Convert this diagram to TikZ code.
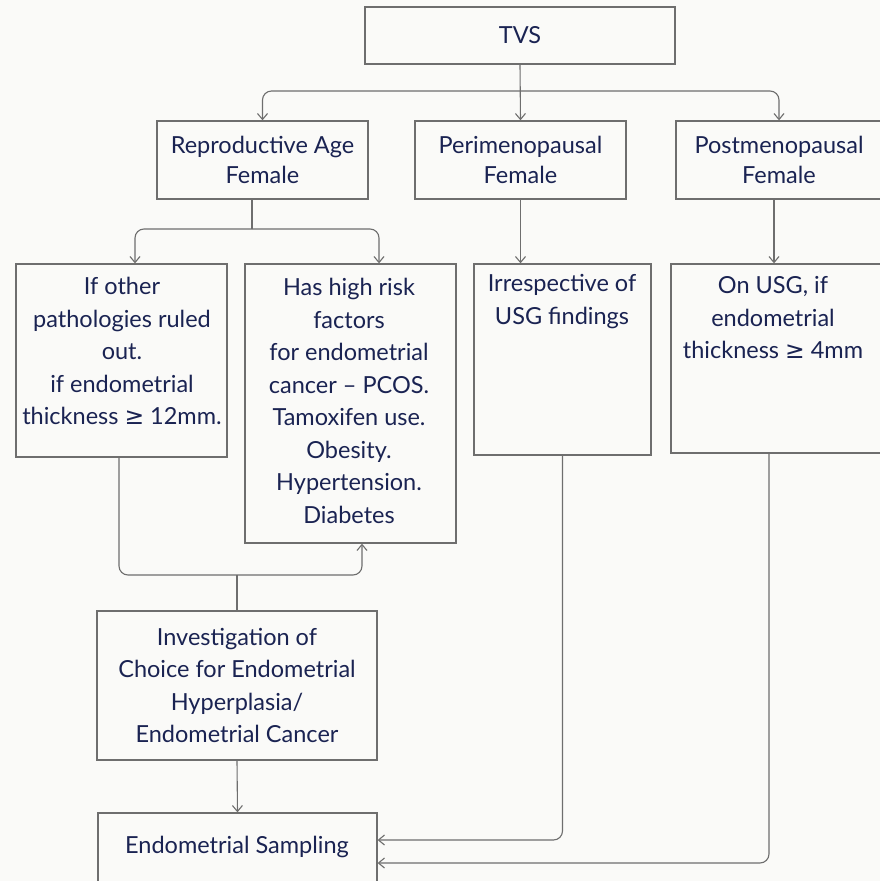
\documentclass[tikz,border=0pt]{standalone}
\usepackage{fontspec}
\setmainfont{Lato}
\newfontfamily\symfont{DejaVu Sans}
\usetikzlibrary{arrows.meta,calc}
\definecolor{ink}{HTML}{1A2352}
\definecolor{rulegray}{HTML}{6E6E6E}
\definecolor{paper}{HTML}{FAFAF8}
\newcommand{\atleast}{{\symfont ≥}}
\begin{document}
\begin{tikzpicture}[x=1pt,y=-1pt,
  box/.style={draw=rulegray, line width=1.3pt, rectangle, inner sep=0pt},
  txt/.style={text=ink, align=center, font=\fontsize{23.5}{32.5}\selectfont, inner sep=0pt},
  hdr/.style={text=ink, align=center, font=\fontsize{23.5}{30}\selectfont},
  conn/.style={draw=rulegray, line width=1.1pt, rounded corners=9pt},
  arr/.style={conn, -{Straight Barb[length=6pt,width=10pt,line width=1.1pt]}}
]
\clip (0,0) rectangle (880,881);
\fill[paper] (0,0) rectangle (880,881);

% boxes of the first two rows
\node[box, hdr, minimum width=310, minimum height=57] (tvs) at (520,35.5) {TVS};
\node[box, hdr, minimum width=211, minimum height=78] (rep) at (262.5,160) {Reproductive Age\\Female};
\node[box, hdr, minimum width=211, minimum height=78] (peri) at (520.5,160) {Perimenopausal\\Female};
\node[box, hdr, minimum width=206, minimum height=78] (post) at (779,160) {Postmenopausal\\Female};

% third row
\node[box, minimum width=211, minimum height=193] (b1) at (121.5,360.5) {};
\node[box, minimum width=211, minimum height=279] (b2) at (350.5,403.5) {};
\node[box, minimum width=177, minimum height=191] (b3) at (562.5,359.5) {};
\node[box, minimum width=211, minimum height=189] (b4) at (776.5,358.5) {};
\node[txt] (b1t) at (122,351) {If other\\pathologies ruled\\out.\\if endometrial\\thickness \atleast{} 12mm.};
\node[txt] (b2t) at (349,401) {Has high risk\\factors\\for endometrial\\cancer -- PCOS.\\Tamoxifen use.\\Obesity.\\Hypertension.\\Diabetes};
\node[txt] (b3t) at (562,301.5) {Irrespective of\\USG findings};
\node[txt] (b4t) at (773,318) {On USG, if\\endometrial\\thickness \atleast{} 4mm};

% lower boxes
\node[box, txt, minimum width=280, minimum height=149] (inv) at (237,685.5) {Investigation of\\Choice for Endometrial\\Hyperplasia/\\Endometrial Cancer};
\node[box, minimum width=279, minimum height=77] (samp) at (237.5,851.5) {};
\node[txt] (sampt) at (237,847) {Endometrial Sampling};

% connectors
\coordinate (tj) at (520,91);
\coordinate (rj) at (252,229);
\coordinate (mj) at (237,575);
\draw[arr] (tvs.south) -- (peri.north);
\draw[arr] (tj) -| (rep.north);
\draw[arr] (tj) -| (post.north);
\draw[conn] (rep.south -| rj) -- (rj);
\draw[arr] (rj) -| ($(b1.north)+(13.5,0)$);
\draw[arr] (rj) -| ($(b2.north)+(28.5,0)$);
\draw[arr] (peri.south) -- (peri.south |- b3.north);
\draw[arr] ($(post.south)+(-5,0)$) -- ($(b4.north)+(-2.5,0)$);
\draw[arr] ($(b1.south)+(-2.5,0)$) |- (mj) -| ($(b2.south)+(11.5,0)$);
\draw[conn] (mj) -- (inv.north);
\draw[arr] (inv.south) -- (samp.north);
\draw[arr] (b3.south) |- ($(samp.east)+(0,-11.5)$);
\draw[arr] ($(b4.south)+(-7.5,0)$) |- ($(samp.east)+(0,11.5)$);
\end{tikzpicture}
\end{document}
